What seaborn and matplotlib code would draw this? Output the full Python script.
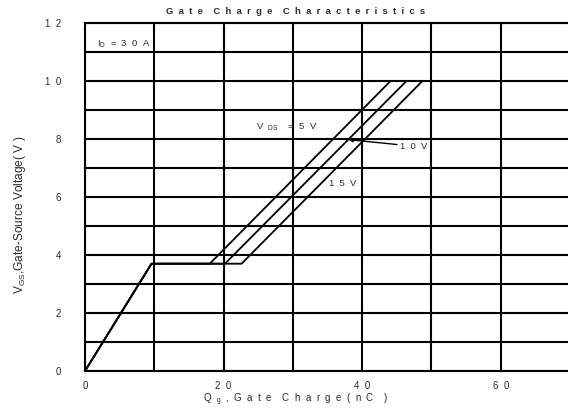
import matplotlib
matplotlib.use("Agg")
import matplotlib.pyplot as plt
import seaborn as sns
import pandas as pd

# Gate charge curves for three drain-source voltages (ID = 30 A)
vds_labels = ["5V", "10V", "15V"]
q_knee = 9.6          # end of the initial rise (nC)
v_plateau = 3.7       # Miller plateau voltage (V)
q_plateau_end = [18.0, 20.2, 22.6]   # where each curve leaves the plateau (nC)
q_final = [44.1, 46.4, 48.7]         # charge at VGS = 10 V (nC)
v_final = 10.0

x_ticks = [0, 20, 40, 60]
y_ticks = [0, 2, 4, 6, 8, 10, 12]

rows = []
for lab, qp, qf in zip(vds_labels, q_plateau_end, q_final):
    pts = [(0.0, 0.0), (q_knee, v_plateau), (qp, v_plateau), (qf, v_final)]
    for i, (q, v) in enumerate(pts):
        rows.append({"vds": lab, "order": i, "qg": q, "vgs": v})
df = pd.DataFrame(rows)


def spaced(s, n=2):
    """Widely letter-spaced text; word gaps get twice the letter gap."""
    gap = " " * n
    return (gap * 2).join(gap.join(w) for w in s.split(" "))


sns.set_style("white")
plt.rcParams["font.family"] = ["Liberation Sans", "DejaVu Sans"]
plt.rcParams["mathtext.default"] = "regular"

ink = "#2b2b2b"
fig = plt.figure(figsize=(5.68, 4.11), dpi=100)
ax = fig.add_axes([85 / 568, 40 / 411, 485 / 568, 348 / 411])

sns.lineplot(data=df, x="qg", y="vgs", units="vds", estimator=None, sort=False,
             color="black", linewidth=1.3, ax=ax, legend=False)

ax.set_xlim(0, 70)
ax.set_ylim(0, 12)
ax.set_xticks(range(0, 71, 10))
ax.set_yticks(range(0, 13, 1))
ax.grid(True, color="black", linewidth=1.5)
ax.set_xticklabels([spaced(str(t)) if t in x_ticks else "" for t in range(0, 71, 10)],
                   fontsize=7, color=ink)
ax.set_yticklabels([spaced(str(t)) if t in y_ticks else "" for t in range(0, 13)],
                   fontsize=7, color=ink)
ax.tick_params(axis="both", length=0)
ax.tick_params(axis="x", pad=7)
ax.tick_params(axis="y", pad=17)
for sp in ax.spines.values():
    sp.set_color("black")
    sp.set_linewidth(1.5)
ax.set_xlabel("")
ax.set_ylabel("")

# Labels and annotations
txt_kw = dict(fontsize=6.8, color=ink)
ax.text(1.7, 11.3, "I" + r"$_{D}$" + "  =  3  0  A", ha="left", va="center", **txt_kw)
ax.text(24.7, 8.4, "V  " + r"$_{DS}$" + "    =  5  V", ha="left", va="center", **txt_kw)
ax.text(35.2, 6.45, spaced("15V"), ha="left", va="center", **txt_kw)

q_tip = 38.0
slope = (v_final - v_plateau) / (q_final[1] - q_plateau_end[1])
v_tip = v_plateau + (q_tip - q_plateau_end[1]) * slope
ax.annotate(spaced("10V"), xy=(q_tip, v_tip), xytext=(45.5, 7.75),
            ha="left", va="center",
            arrowprops=dict(arrowstyle="-|>", color="black", lw=1.0,
                            shrinkA=0, shrinkB=0, mutation_scale=6),
            **txt_kw)

fig.text(296 / 568, 1 - 12 / 411, spaced("Gate Charge Characteristics"),
         ha="center", va="center", fontsize=6.8, color=ink, fontweight="bold")
fig.text(296 / 568, 1 - 400 / 411,
         "Q  " + r"$_{g}$" + "  ,  " + spaced("Gate Charge") + "  (  n  C    )",
         ha="center", va="center", fontsize=7, color=ink)
fig.text(20 / 568, 1 - 215 / 411, "V" + r"$_{GS}$" + ",Gate-Source Voltage( V )",
         ha="center", va="center", rotation=90, fontsize=8.6, color=ink)

fig.savefig("out.png", dpi=100)
